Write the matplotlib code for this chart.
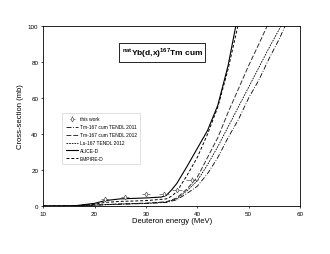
import numpy as np
import matplotlib
matplotlib.use('Agg')
import matplotlib.pyplot as plt

plt.rcParams['font.family'] = ['Liberation Sans', 'DejaVu Sans']
plt.rcParams['mathtext.fontset'] = 'custom'
plt.rcParams['mathtext.rm'] = 'Liberation Sans'
plt.rcParams['mathtext.bf'] = 'Liberation Sans:bold'

# experimental points
E_exp = [22.0, 26.0, 30.0, 33.5, 36.0, 39.0]
dE_exp = [0.8, 0.8, 0.8, 0.9, 1.0, 1.2]
sig_exp = [4.0, 5.0, 6.5, 6.5, 9.0, 14.5]
dsig_exp = [0.5, 0.6, 0.7, 0.7, 1.0, 1.5]

# model curves
E_tendl11 = [10, 16, 20, 25, 30, 34, 36, 38, 40, 42, 44, 46, 48, 50, 52, 54, 56, 57.1]
s_tendl11 = [0, 0.1, 0.5, 1.0, 1.4, 2.0, 3.5, 7.0, 11, 18, 27, 38, 48, 60, 70, 82, 93, 100]
E_tm12 = [10, 16, 20, 25, 30, 34, 36, 38, 40, 42, 44, 46, 48, 50, 52, 53.6]
s_tm12 = [0, 0.1, 0.6, 1.2, 1.6, 2.4, 4.5, 9.5, 16, 27, 38, 52, 65, 78, 90, 100]
E_lu12 = [10, 16, 20, 25, 30, 34, 36, 38, 40, 42, 44, 46, 48, 50, 52, 54, 56.3]
s_lu12 = [0, 0.1, 0.5, 1.1, 1.5, 2.2, 4.0, 8.5, 14, 23, 33, 44, 55, 66, 77, 88, 100]
E_alice = [10, 16, 20, 22, 25, 30, 33, 34, 35, 36, 38, 40, 42, 44, 46, 47.5]
s_alice = [0, 0.1, 1.5, 3.0, 4.0, 4.5, 5.0, 6.0, 9.0, 12.5, 22, 32, 42, 56, 78, 100]
E_empire = [10, 16, 20, 22, 25, 30, 34, 35, 36, 38, 40, 42, 44, 46, 47.9]
s_empire = [0, 0.1, 1.0, 2.0, 2.6, 3.0, 4.0, 5.5, 8.0, 17, 27, 40, 55, 76, 100]

fig = plt.figure(figsize=(3.3, 2.55), dpi=100)
ax = fig.add_axes([0.131, 0.188, 0.778, 0.706])

h_exp = ax.errorbar(E_exp, sig_exp, xerr=dE_exp, yerr=dsig_exp, fmt='d', ms=2.5, mfc='white',
                    mec='#555555', ecolor='#555555', elinewidth=0.5, capsize=0, mew=0.5,
                    label='this work', zorder=5)
h1, = ax.plot(E_tendl11, s_tendl11, color='black', lw=0.6, dashes=(6, 2, 1, 2), label='Tm-167 cum TENDL 2011')
h2, = ax.plot(E_tm12, s_tm12, color='#333333', lw=0.7, dashes=(5, 2), label='Tm-167 cum TENDL 2012')
h3, = ax.plot(E_lu12, s_lu12, color='black', lw=0.6, dashes=(2, 1.2), label='Lu-167 TENDL 2012')
h4, = ax.plot(E_alice, s_alice, color='black', lw=0.8, label='ALICE-D')
h5, = ax.plot(E_empire, s_empire, color='black', lw=0.7, dashes=(3, 2), label='EMPIRE-D')

ax.set_xlim(10, 60)
ax.set_ylim(0, 100)
ax.set_xticks(range(10, 61, 10))
ax.set_yticks(range(0, 101, 20))
ax.tick_params(labelsize=4.5, length=1.5, width=0.5, pad=2)
for s in ax.spines.values():
    s.set_linewidth(0.6)
ax.set_xlabel('Deuteron energy (MeV)', fontsize=5.5, labelpad=0.5)
ax.set_ylabel('Cross-section (mb)', fontsize=5.5, labelpad=3)

ax.text(0.305, 0.855, r'$^{\mathbf{nat}}$Yb(d,x)$^{\mathbf{167}}$Tm cum', transform=ax.transAxes,
        fontsize=6, fontweight='bold', va='center', ha='left',
        bbox=dict(boxstyle='square,pad=0.3', fc='white', ec='black', lw=0.6))

leg = ax.legend([h_exp, h1, h2, h3, h4, h5],
                ['this work', 'Tm-167 cum TENDL 2011', 'Tm-167 cum TENDL 2012',
                 'Lu-167 TENDL 2012', 'ALICE-D', 'EMPIRE-D'],
                loc='upper left', bbox_to_anchor=(0.065, 0.53), fontsize=3.5,
                frameon=True, fancybox=False, edgecolor='#bbbbbb', handlelength=2.6,
                borderpad=0.7, labelspacing=0.6, handletextpad=0.3)
leg.get_frame().set_linewidth(0.4)

fig.savefig('out.png', dpi=100)
